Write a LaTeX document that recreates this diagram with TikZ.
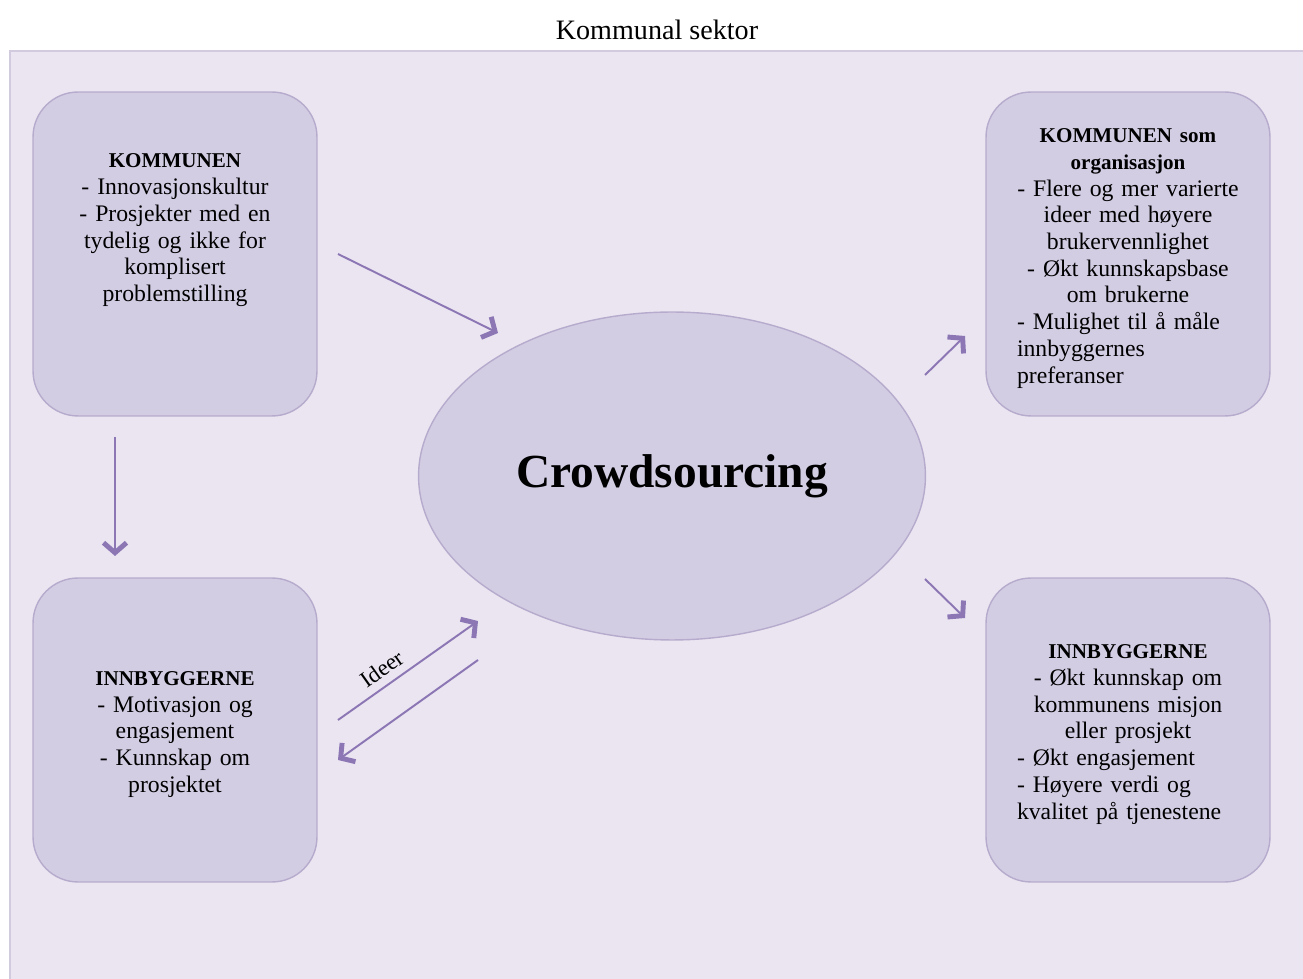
\documentclass[tikz,border=0pt]{standalone}
\usepackage{fontspec}
\setmainfont{Liberation Serif}
\usetikzlibrary{arrows.meta}
\usetikzlibrary{shapes.geometric}

\definecolor{bakgrunn}{HTML}{EAE5F1}
\definecolor{rammefarge}{HTML}{D2CBE0}
\definecolor{boksfyll}{HTML}{D3CDE4}
\definecolor{boksramme}{HTML}{B6ABCC}
\definecolor{pilfarge}{HTML}{8C76B4}

\tikzset{
  boks/.style={draw=boksramme, fill=boksfyll, line width=0.8pt, rounded corners=0.9cm,
    minimum width=5.68cm, inner sep=0pt, text width=4.44cm,
    font=\fontsize{13.5}{15.2}\selectfont, execute at begin node={\parindent=0pt\rule{0pt}{13pt}}},
  pil/.style={draw=pilfarge, line width=1.1pt, -{Straight Barb[length=2mm, width=4.6mm, line width=2.8pt]}}
}
\newcommand{\overskrift}[1]{{\fontsize{12}{15.2}\selectfont\bfseries #1}}

\begin{document}
\begin{tikzpicture}[x=0.02cm, y=-0.02cm]
  \useasboundingbox (0,0) rectangle (1303,979);
  \fill[bakgrunn] (10,51) rectangle (1303,979);
  \draw[rammefarge, line width=0.8pt] (1303,51) -- (10,51) -- (10,979);

  \node[font=\fontsize{16}{19}\selectfont] (tittel) at (657,30) {Kommunal sektor};

  \node[boks, minimum height=6.48cm] (kommunen) at (175,254) {\centering\overskrift{KOMMUNEN}\\ - Innovasjonskultur\\ - Prosjekter med en\\ tydelig og ikke for\\ komplisert\\ problemstilling\\ \strut\\ \strut\par};
  \node[boks, minimum height=6.08cm] (innbyggere) at (175,730) {\centering\overskrift{INNBYGGERNE}\\ - Motivasjon og\\ engasjement\\ - Kunnskap om\\ prosjektet\par};
  \node[boks, minimum height=6.48cm] (organisasjon) at (1128,254) {\centering\overskrift{KOMMUNEN som\\ organisasjon}\\ - Flere og mer varierte\\ ideer med høyere\\ brukervennlighet\\ - Økt kunnskapsbase\\ om brukerne\par
    \raggedright - Mulighet til å måle\\ innbyggernes\\ preferanser\par};
  \node[boks, minimum height=6.08cm] (gevinst) at (1128,730) {\centering\overskrift{INNBYGGERNE}\\ - Økt kunnskap om\\ kommunens misjon\\ eller prosjekt\par
    \raggedright - Økt engasjement\\ - Høyere verdi og\\ kvalitet på tjenestene\par};

  \node[ellipse, draw=boksramme, fill=boksfyll, line width=0.8pt, minimum width=10.14cm, minimum height=6.56cm, inner sep=0pt, font=\fontsize{27}{32}\selectfont\bfseries] (crowd) at (672,476) {Crowdsourcing};

  % pilendene
  \coordinate (k-fra) at (338,254);
  \coordinate (k-til) at (498,333);
  \coordinate (ned-fra) at (115,437);
  \coordinate (ned-til) at (115,556);
  \coordinate (ideer-fra) at (338,720);
  \coordinate (ideer-til) at (478,621);
  \coordinate (retur-fra) at (478,660);
  \coordinate (retur-til) at (338,760);
  \coordinate (org-fra) at (925,375);
  \coordinate (org-til) at (965,336);
  \coordinate (inn-fra) at (925,579);
  \coordinate (inn-til) at (965,618);

  \draw[pil] (k-fra) -- (k-til);
  \draw[pil] (ned-fra) -- (ned-til);
  \draw[pil] (ideer-fra) -- node[pos=0.38, sloped, above=1pt, font=\fontsize{13}{15}\selectfont] (ideer) {Ideer} (ideer-til);
  \draw[pil] (retur-fra) -- (retur-til);
  \draw[pil] (org-fra) -- (org-til);
  \draw[pil] (inn-fra) -- (inn-til);
\end{tikzpicture}
\end{document}
